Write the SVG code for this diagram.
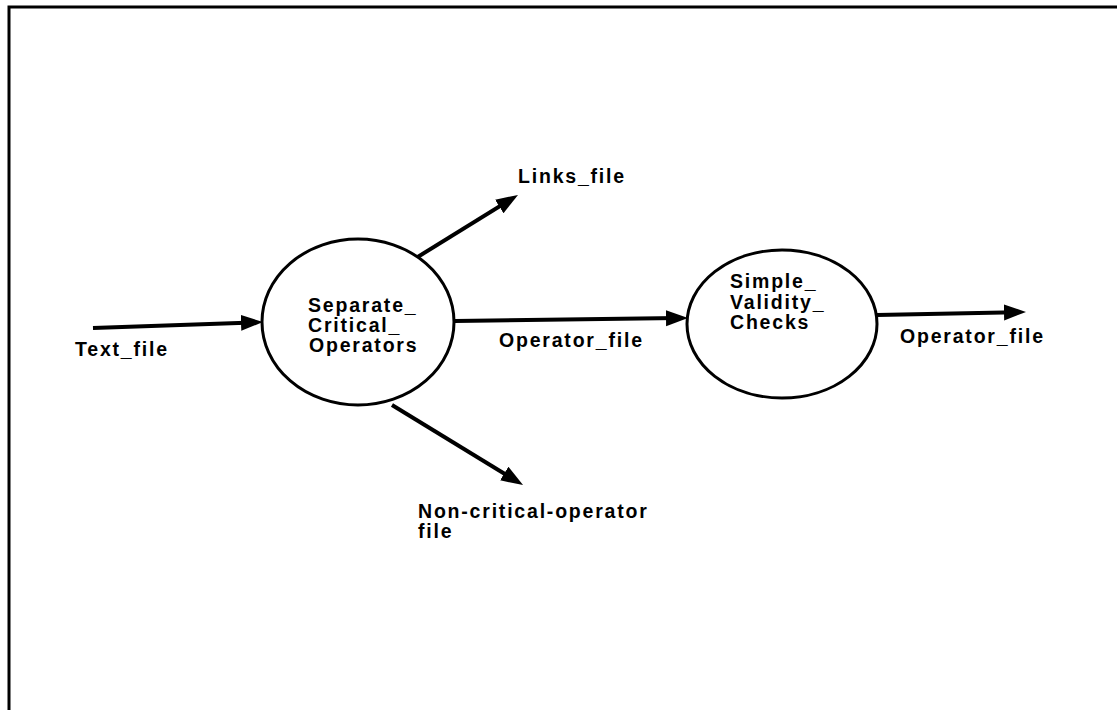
<svg xmlns="http://www.w3.org/2000/svg" width="1117" height="710" viewBox="0 0 1117 710">
<style>
.bg{fill:#ffffff}
.border{fill:none;stroke:#000;stroke-width:3}
.proc{fill:#ffffff;stroke:#000;stroke-width:3}
.flow{fill:none;stroke:#000;stroke-width:4;marker-end:url(#arrow)}
text{font-family:"Liberation Sans",Arial,Helvetica,sans-serif;font-weight:bold;font-size:19.5px;letter-spacing:1.8px;fill:#000}
</style>
<defs>
<marker id="arrow" markerUnits="userSpaceOnUse" markerWidth="24" markerHeight="18" refX="12" refY="8" orient="auto">
<path d="M0,0 L22,8 L0,16 z" fill="#000"/>
</marker>
</defs>
<rect class="bg" x="0" y="0" width="1117" height="710"/>
<path class="border" d="M9,712 L9,7 L1119,7"/>
<g id="connectors">
<path class="flow" d="M93,328 L253,322.4"/>
<path class="flow" d="M455,321 L678,318.1"/>
<path class="flow" d="M877,315 L1016,312.2"/>
<path class="flow" d="M416,258 L509.5,200.2"/>
<path class="flow" d="M392,405 L514.5,479.8"/>
</g>
<g id="node-separate">
<ellipse class="proc" cx="358" cy="322" rx="96" ry="83"/>
<text x="308" y="312">Separate_</text>
<text x="308" y="332">Critical_</text>
<text x="309" y="352">Operators</text>
</g>
<g id="node-simple">
<ellipse class="proc" cx="782" cy="324" rx="95" ry="74"/>
<text x="730" y="288">Simple_</text>
<text x="730" y="309">Validity_</text>
<text x="730" y="329">Checks</text>
</g>
<g id="labels">
<text x="75" y="356">Text_file</text>
<text x="499" y="347">Operator_file</text>
<text x="900" y="343">Operator_file</text>
<text x="518" y="183">Links_file</text>
<text x="418" y="518">Non-critical-operator</text>
<text x="418" y="538">file</text>
</g>
</svg>
